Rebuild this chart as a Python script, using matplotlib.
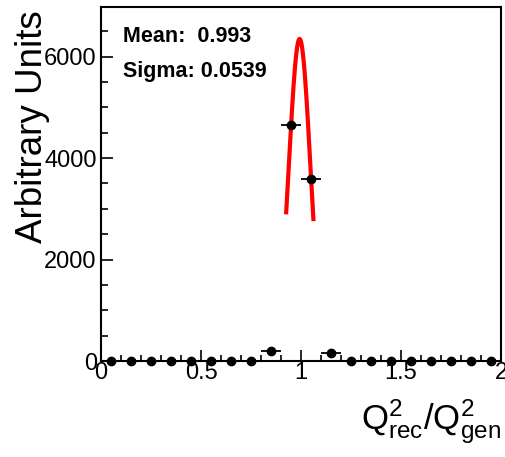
import numpy as np
import matplotlib
matplotlib.use("Agg")
import matplotlib.pyplot as plt
from matplotlib.ticker import MultipleLocator

plt.rcParams['font.family'] = ['Liberation Sans', 'DejaVu Sans']
plt.rcParams['mathtext.fontset'] = 'custom'
plt.rcParams['mathtext.rm'] = 'Liberation Sans'

# histogram of Q2 ratio, bins of width 0.1 from 0 to 2
bin_centers = np.arange(0.05, 2.0, 0.1)
counts = [0, 0, 0, 0, 0, 0, 0, 5, 197, 4650,
          3590, 160, 5, 0, 0, 0, 0, 0, 0, 0]
bin_halfwidth = 0.05

# gaussian fit
fit_mean = 0.993
fit_sigma = 0.0539
fit_amp = 6350
fit_lo, fit_hi = 0.926, 1.062

fig = plt.figure(figsize=(5.06, 4.57), dpi=100)
ax = fig.add_axes([101/506, 1 - 361/457, 400/506, 354/457])

xf = np.linspace(fit_lo, fit_hi, 200)
yf = fit_amp * np.exp(-0.5 * ((xf - fit_mean) / fit_sigma) ** 2)
ax.plot(xf, yf, color='#ff0000', lw=3, zorder=3)

counts = np.array(counts, dtype=float)
ax.errorbar(bin_centers, counts, xerr=bin_halfwidth, yerr=np.sqrt(counts),
            fmt='o', color='black', ms=6, elinewidth=1.3, capsize=0,
            zorder=4, clip_on=False)

ax.set_xlim(0, 2)
ax.set_ylim(0, 6980)
ax.xaxis.set_major_locator(MultipleLocator(0.5))
ax.xaxis.set_minor_locator(MultipleLocator(0.1))
ax.yaxis.set_major_locator(MultipleLocator(2000))
ax.yaxis.set_minor_locator(MultipleLocator(500))
ax.set_xticks([0, 0.5, 1, 1.5, 2], ['0', '0.5', '1', '1.5', '2'])

ax.tick_params(axis='both', which='both', direction='in', labelsize=17,
               top=False, right=False, width=1.2, colors='black')
ax.tick_params(axis='y', which='major', length=8.5, pad=3)
ax.tick_params(axis='y', which='minor', length=5)
ax.tick_params(axis='x', which='major', length=8, pad=1)
ax.tick_params(axis='x', which='minor', length=4.5)
for s in ax.spines.values():
    s.set_linewidth(1.5)

ax.set_ylabel('Arbitrary Units', fontsize=26.5, loc='top')
ax.yaxis.set_label_coords(-0.128, 0.99)
ax.set_xlabel(r'$\mathregular{Q^{2}_{rec}/Q^{2}_{gen}}$', fontsize=25, loc='right')
ax.xaxis.set_label_coords(1.0, -0.105)

ax.text(0.055, 0.917, 'Mean:  %.3f' % fit_mean, transform=ax.transAxes,
        fontsize=15.5, fontweight='bold', va='center', ha='left')
ax.text(0.055, 0.818, 'Sigma: %.4f' % fit_sigma, transform=ax.transAxes,
        fontsize=15.5, fontweight='bold', va='center', ha='left')

fig.savefig('out.png', dpi=100)
